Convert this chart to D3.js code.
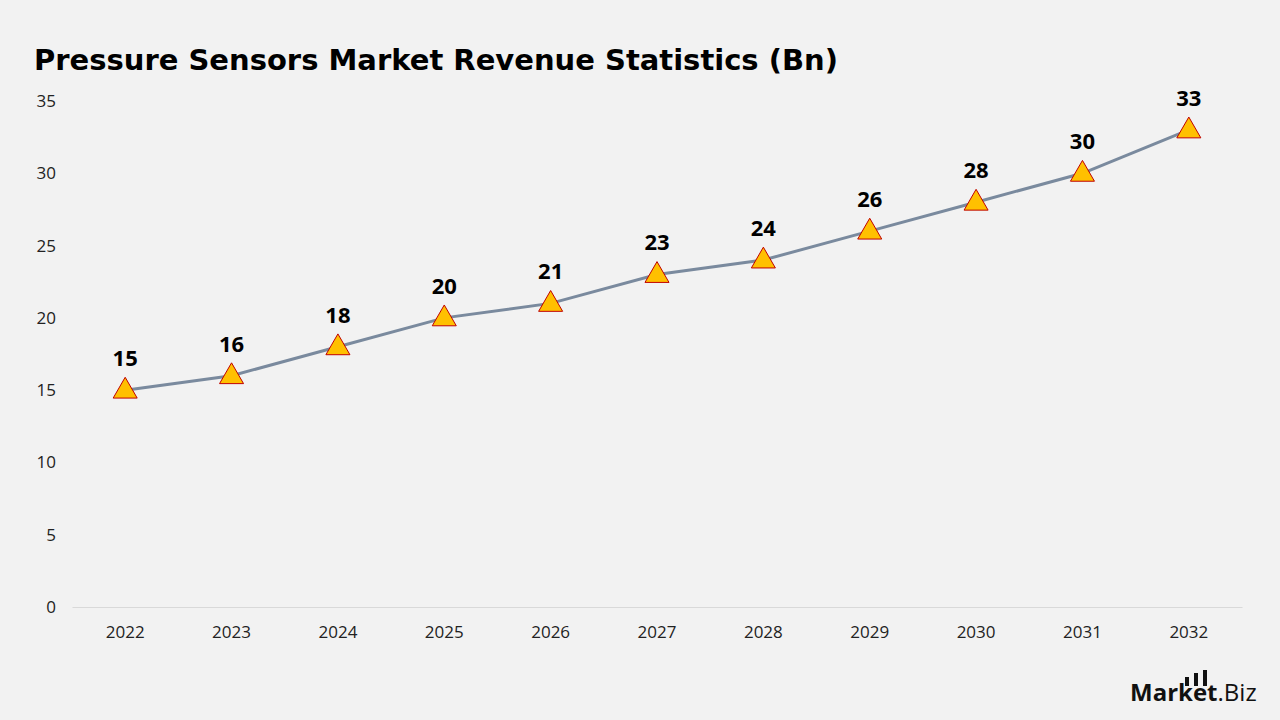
<!DOCTYPE html>
<html>
<head>
<meta charset="utf-8">
<script src="https://cdn.jsdelivr.net/npm/d3@7"></script>
<style>
  body { margin: 0; background: #f2f2f2; }
  svg { display: block; font-family: "Open Sans", "DejaVu Sans", sans-serif; }
</style>
</head>
<body>
<div id="chart"></div>
<script>
const years = ["2022", "2023", "2024", "2025", "2026", "2027", "2028", "2029", "2030", "2031", "2032"];
const revenue = [15, 16, 18, 20, 21, 23, 24, 26, 28, 30, 33];
const yTicks = [0, 5, 10, 15, 20, 25, 30, 35];

const width = 1280, height = 720;

const svg = d3.select("#chart")
    .append("svg")
    .attr("width", width)
    .attr("height", height);

svg.append("rect")
    .attr("width", width)
    .attr("height", height)
    .attr("fill", "#f2f2f2");

svg.append("text")
    .attr("x", 34)
    .attr("y", 70)
    .attr("font-size", "29px")
    .attr("font-weight", "bold")
    .attr("font-family", "\"DejaVu Sans\", sans-serif")
    .attr("fill", "#000")
    .text("Pressure Sensors Market Revenue Statistics (Bn)");

const x = d3.scaleBand()
    .domain(years)
    .range([72, 1242]);

const y = d3.scaleLinear()
    .domain([0, 35])
    .range([607, 101]);

// y axis labels (no line)
const yAxis = svg.append("g")
    .attr("transform", "translate(62,0)")
    .call(d3.axisLeft(y).tickValues(yTicks).tickSize(0).tickPadding(6));
yAxis.select(".domain").remove();
yAxis.selectAll("text")
    .attr("font-size", "17px")
    .attr("font-family", "\"Open Sans\", \"DejaVu Sans\", sans-serif")
    .attr("fill", "#222");

// x axis
const xAxis = svg.append("g")
    .attr("transform", `translate(0,${y(0)})`)
    .call(d3.axisBottom(x).tickSize(0).tickPadding(19));
xAxis.select(".domain").attr("stroke", "#d9d9d9").attr("stroke-width", 1);
xAxis.selectAll("text")
    .attr("font-size", "17px")
    .attr("font-family", "\"Open Sans\", \"DejaVu Sans\", sans-serif")
    .attr("fill", "#222");

const data = years.map((yr, i) => ({ year: yr, value: revenue[i] }));
const cx = d => x(d.year) + x.bandwidth() / 2;

const line = d3.line()
    .x(cx)
    .y(d => y(d.value));

svg.append("path")
    .datum(data)
    .attr("d", line)
    .attr("fill", "none")
    .attr("stroke", "#7a8a9e")
    .attr("stroke-width", 3);

const tri = d3.symbol().type(d3.symbolTriangle).size(250);

svg.selectAll(".marker")
    .data(data)
    .enter()
    .append("path")
    .attr("class", "marker")
    .attr("d", tri)
    .attr("transform", d => `translate(${cx(d)},${y(d.value) + 1})`)
    .attr("fill", "#ffc000")
    .attr("stroke", "#c00000")
    .attr("stroke-width", 1);

svg.selectAll(".label")
    .data(data)
    .enter()
    .append("text")
    .attr("class", "label")
    .attr("x", cx)
    .attr("y", d => y(d.value) - 24)
    .attr("text-anchor", "middle")
    .attr("font-size", "22px")
    .attr("font-weight", "bold")
    .attr("fill", "#000")
    .text(d => d.value);

// logo
const logo = svg.append("g");
logo.append("text")
    .attr("x", 1130)
    .attr("y", 701)
    .attr("font-size", "24px")
    .attr("font-weight", "bold")
    .attr("fill", "#111")
    .text("Market")
    .append("tspan")
    .attr("font-weight", "normal")
    .text(".Biz");
const barsX = [1185, 1194, 1203];
const barsH = [9, 13, 16];
logo.selectAll("rect")
    .data(barsX)
    .enter()
    .append("rect")
    .attr("x", d => d)
    .attr("y", (d, i) => 686 - barsH[i])
    .attr("width", 4)
    .attr("height", (d, i) => barsH[i])
    .attr("fill", "#111");
</script>
</body>
</html>
